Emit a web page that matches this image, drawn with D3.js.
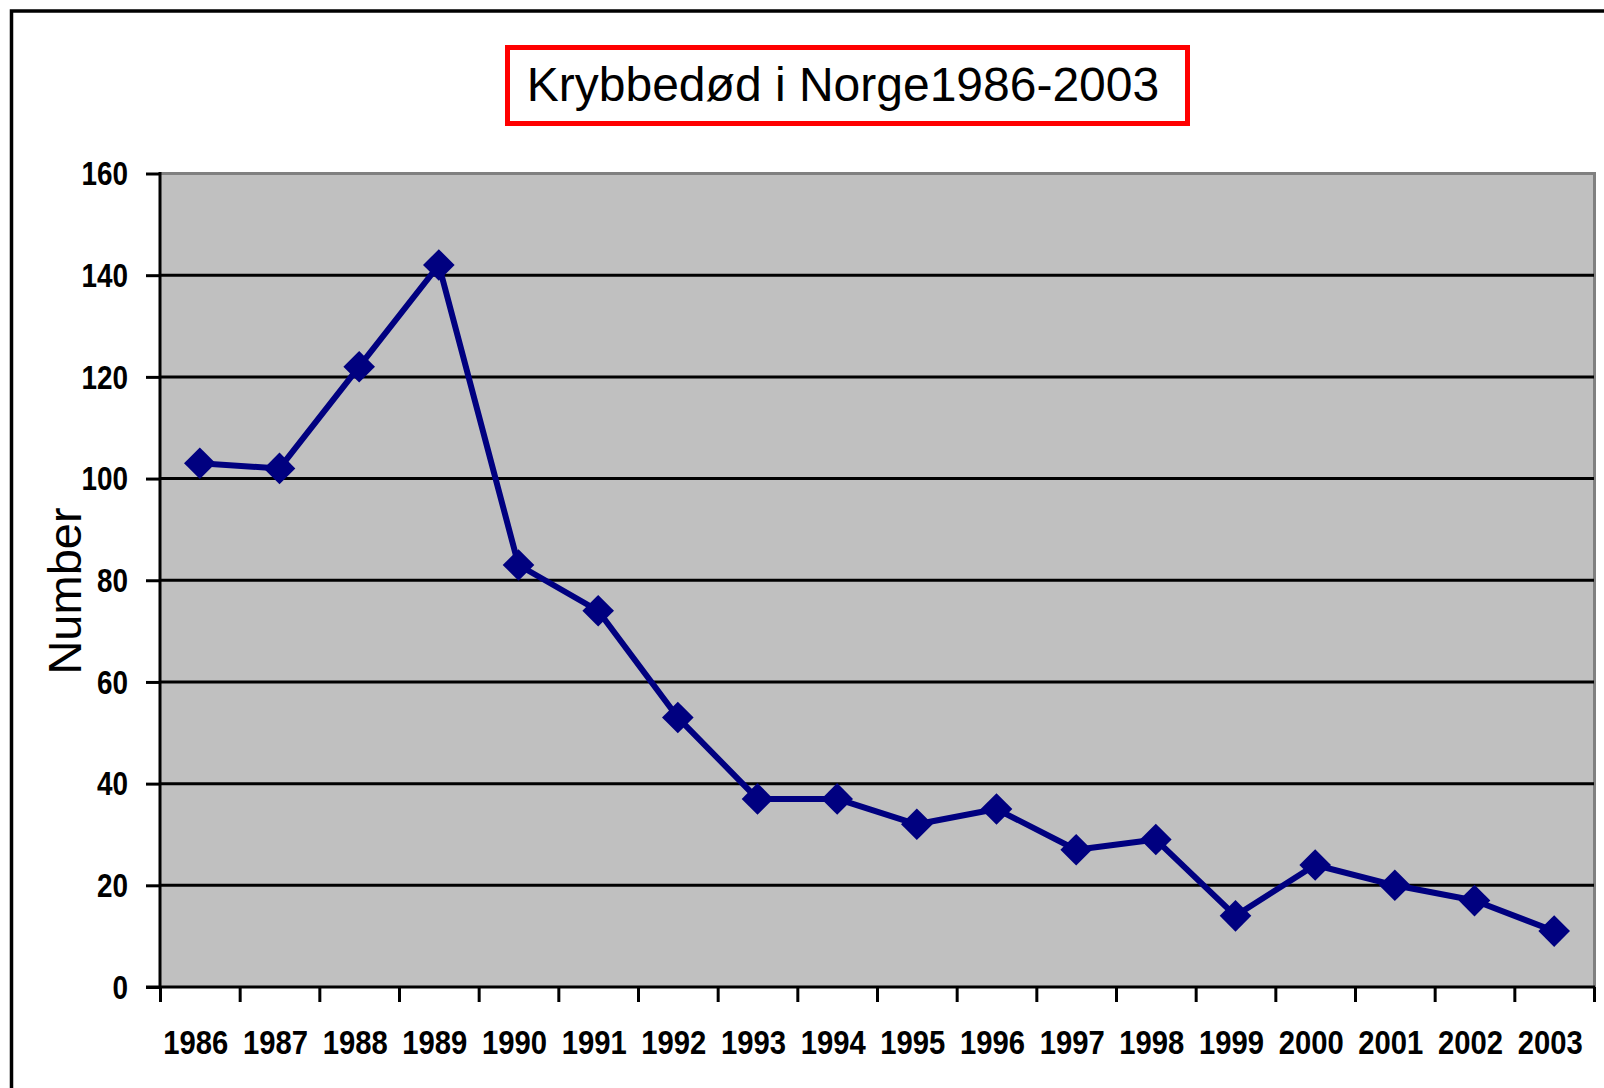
<!DOCTYPE html>
<html>
<head>
<meta charset="utf-8">
<script src="https://cdn.jsdelivr.net/npm/d3@7"></script>
<style>
	body { margin: 0; background: #fff; }
	svg { display: block; }
</style>
</head>
<body>
<svg id="viz" width="1604" height="1088"></svg>
<script>
// values
let years = ["1986","1987","1988","1989","1990","1991","1992","1993","1994",
			 "1995","1996","1997","1998","1999","2000","2001","2002","2003"];
let deaths = [103,102,122,142,83,74,53,37,37,32,35,27,29,14,24,20,17,11];
let yTicks = [0,20,40,60,80,100,120,140,160];

let title = "Krybbedød i Norge1986-2003";
let yTitle = "Number";

function app() {
	let svg = d3.select('#viz');
	let left = 160, right = 1594, top = 173.5, bottom = 987;

	// outer frame, cut off at right and bottom like the source image
	svg.append('rect')
		.attr('x', 11.5).attr('y', 11)
		.attr('width', 1700).attr('height', 1200)
		.attr('fill', '#fff')
		.attr('stroke', '#000')
		.attr('stroke-width', 3.5);

	// title box
	svg.append('rect')
		.attr('x', 507.5).attr('y', 47.5)
		.attr('width', 680).attr('height', 76)
		.attr('fill', '#fff')
		.attr('stroke', '#ff0000')
		.attr('stroke-width', 5);

	svg.append('text')
		.attr('x', 843).attr('y', 101)
		.attr('text-anchor', 'middle')
		.style('font-family', 'Arial, "Liberation Sans", sans-serif')
		.style('font-size', '48px')
		.attr('fill', '#000')
		.text(title);

	let y = d3.scaleLinear().domain([0, 160]).range([bottom, top]);
	let xEdge = d3.scaleLinear().domain([0, years.length]).range([left, right]);
	let x = d3.scaleBand().domain(years).range([left, right]);

	// plot background
	svg.append('rect')
		.attr('x', left).attr('y', top)
		.attr('width', right - left).attr('height', bottom - top)
		.attr('fill', '#c0c0c0');

	// grey border top and right
	svg.append('path')
		.attr('d', `M${left},${top}H${right + 0.5}V${bottom}`)
		.attr('fill', 'none')
		.attr('stroke', '#808080')
		.attr('stroke-width', 3);

	// gridlines
	svg.append('g')
		.selectAll('line')
		.data(yTicks.filter(d => d > 0 && d < 160))
		.enter()
		.append('line')
		.attr('x1', left).attr('x2', right)
		.attr('y1', d => y(d)).attr('y2', d => y(d))
		.attr('stroke', '#000')
		.attr('stroke-width', 3);

	// y axis
	let yAxis = svg.append('g')
		.attr('transform', `translate(${left},0)`)
		.call(d3.axisLeft(y).tickValues(yTicks).tickSize(14).tickPadding(18));
	yAxis.select('.domain').attr('stroke-width', 3).attr('d', `M0,${top - 1.5}V${bottom}`);
	yAxis.selectAll('.tick line').attr('stroke-width', 3);
	yAxis.selectAll('.tick text')
		.style('font-family', 'Arial, "Liberation Sans", sans-serif')
		.style('font-weight', 'bold')
		.style('font-size', '33px')
		.attr('dy', '0.34em')
		.attr('textLength', d => String(d).length * 15.5)
		.attr('lengthAdjust', 'spacingAndGlyphs');

	// x axis ticks at category edges
	let xAxis = svg.append('g')
		.attr('transform', `translate(0,${bottom})`)
		.call(d3.axisBottom(xEdge).tickValues(d3.range(0, years.length + 1)).tickSize(15).tickFormat(''));
	xAxis.select('.domain').attr('stroke-width', 3).attr('d', `M${left - 14},0H${right + 1}`);
	xAxis.selectAll('.tick line').attr('stroke-width', 3);

	// x labels at category centres
	let xLabels = svg.append('g')
		.attr('transform', `translate(-4,${bottom})`)
		.call(d3.axisBottom(x).tickSize(0).tickPadding(44));
	xLabels.select('.domain').remove();
	xLabels.selectAll('.tick text')
		.style('font-family', 'Arial, "Liberation Sans", sans-serif')
		.style('font-weight', 'bold')
		.style('font-size', '33px')
		.attr('textLength', 65)
		.attr('lengthAdjust', 'spacingAndGlyphs');

	// y title
	svg.append('text')
		.attr('transform', 'translate(81,591) rotate(-90)')
		.attr('text-anchor', 'middle')
		.style('font-family', 'Arial, "Liberation Sans", sans-serif')
		.style('font-size', '47px')
		.attr('fill', '#000')
		.text(yTitle);

	let pts = years.map((yr, i) => ({ year: yr, value: deaths[i] }));

	let line = d3.line()
		.x(d => x(d.year) + x.bandwidth() / 2)
		.y(d => y(d.value));

	svg.append('path')
		.datum(pts)
		.attr('d', line)
		.attr('fill', 'none')
		.attr('stroke', '#000080')
		.attr('stroke-width', 6)
		.attr('stroke-linejoin', 'round');

	let diamond = d3.symbol().type(d3.symbolSquare).size(500);
	svg.append('g')
		.selectAll('path')
		.data(pts)
		.enter()
		.append('path')
		.attr('d', diamond)
		.attr('transform', d => `translate(${x(d.year) + x.bandwidth() / 2},${y(d.value)}) rotate(45)`)
		.attr('fill', '#000080');
}

app();
</script>
</body>
</html>
